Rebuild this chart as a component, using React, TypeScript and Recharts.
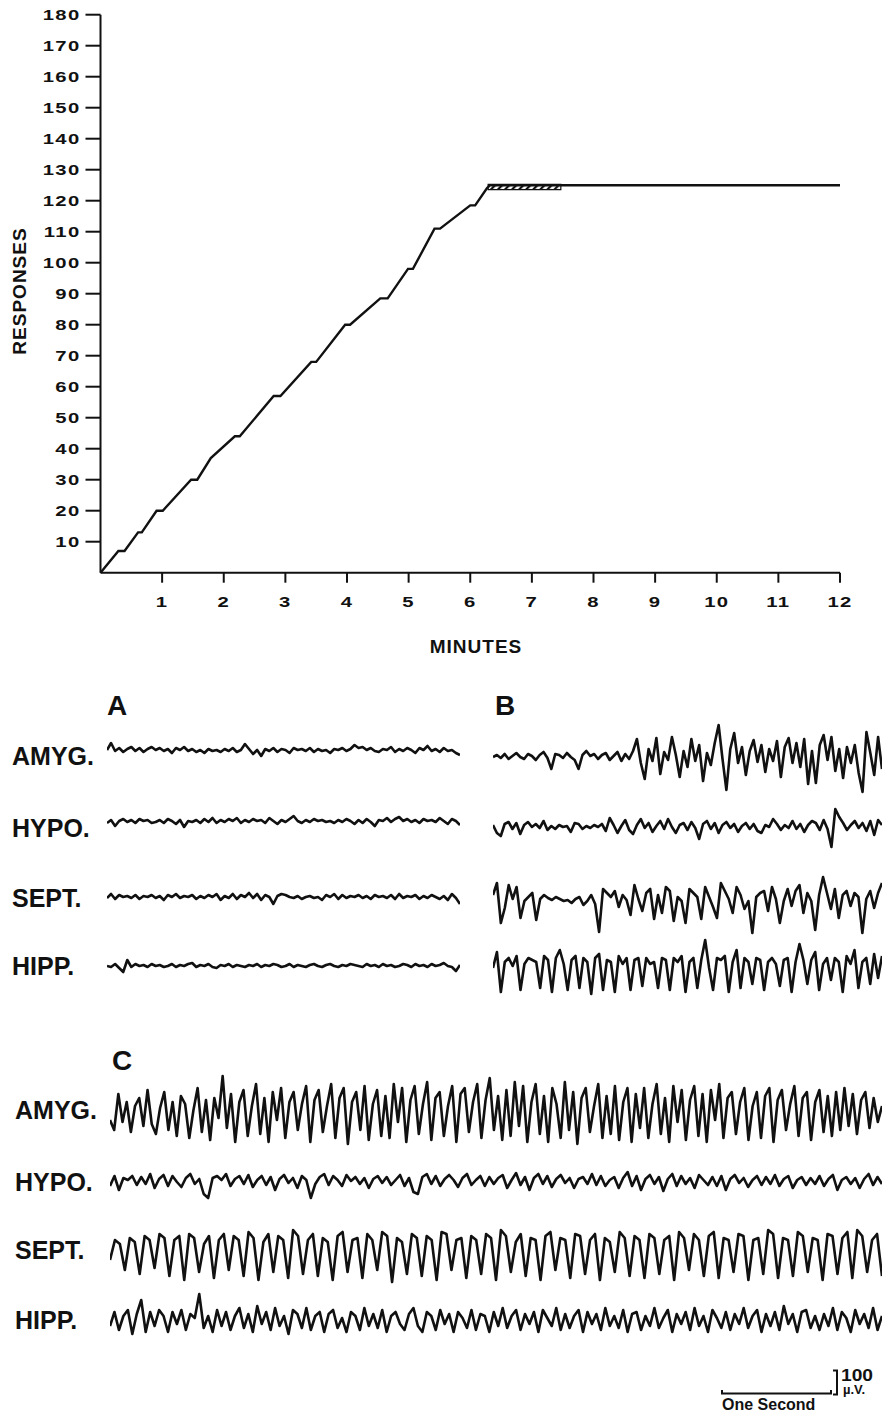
import { Line, LineChart, ReferenceArea, XAxis, YAxis } from "recharts";

// cumulative record (top panel)
const minutes = [0, 0.29, 0.39, 0.61, 0.67, 0.91, 1.01, 1.47, 1.57, 1.79, 2.18, 2.26, 2.81, 2.92, 3.42, 3.5, 3.97, 4.05, 4.54, 4.66, 4.99, 5.07, 5.42, 5.51, 6.0, 6.08, 6.27, 6.32, 12];
const responses = [0, 7, 7, 13, 13, 20, 20, 30, 30, 37, 44, 44, 57, 57, 68, 68, 80, 80, 88.5, 88.5, 98, 98, 111, 111, 118.5, 118.5, 124, 125, 125];
const responseTicks = [10, 20, 30, 40, 50, 60, 70, 80, 90, 100, 110, 120, 130, 140, 150, 160, 170, 180];
const minuteTicks = [1, 2, 3, 4, 5, 6, 7, 8, 9, 10, 11, 12];
const hatchMinutes = [6.29, 7.47];
const hatchResponses = [123.6, 125.3];

// EEG traces, deflection (up = positive)
const aAmyg = [1, 8, 0, 3, -1, 2, 4, 0, 3, -1, 2, 4, 1, 3, 0, 2, -2, 3, 1, 4, 0, 2, -1, 1, -2, 2, 0, 1, -1, 2, 0, 3, -1, 1, 7, 2, -3, 1, -5, 2, 0, 3, -1, 2, 1, -2, 3, 1, 2, 0, 3, -1, 2, 0, 1, -2, 2, 1, 3, 0, 2, 6, 3, 4, 1, 3, 0, -1, 2, 1, 4, -1, 2, 0, 3, 1, -2, 3, 1, 5, 0, 2, -1, 3, 0, 1, -2, -4];
const aHypo = [-1, 2, -4, 1, 3, 0, 2, -1, 3, 1, 2, -1, 0, 2, -1, 3, 1, -2, 2, -5, 1, 0, 2, -1, 3, 0, 4, -1, 2, 0, 3, 1, 4, -1, 2, 0, 3, 1, 2, -1, 4, 1, -2, 2, 0, 3, 6, 1, -1, 2, 0, 3, 1, 2, 0, 1, -1, 2, 0, 3, 1, -2, 2, -1, 3, 0, -4, 2, 1, 4, 0, 3, 5, 1, 3, 0, 2, -1, 3, 1, 2, 0, 4, 1, -2, 3, 1, -3];
const aSept = [0, 4, -1, 3, 1, 2, 0, 3, -1, 2, 1, 3, 0, 2, -2, 3, 1, 4, 0, 2, 1, 3, -1, 2, 0, 3, 1, 4, -2, 2, 0, 4, -1, 3, 1, 5, 0, 4, -2, 3, 1, -6, 2, 4, 3, 1, 0, 2, -1, 1, 2, 0, 1, -2, 3, 1, 4, -1, 3, 0, 2, 1, 3, 0, 2, -1, 3, 1, 2, 0, 3, -1, 4, 0, 2, 1, 3, -1, 2, 0, 3, 1, -1, 2, -2, 4, 0, -6];
const aHipp = [0, -1, 2, -2, -6, 6, -1, 2, 0, 1, -1, 2, 0, 1, -1, 0, 2, -1, 1, 0, 2, 3, -1, 1, 0, 2, -1, -2, 1, 0, 2, -1, 1, 0, -1, 1, 0, 2, -1, 1, 0, 2, 1, -1, 0, 2, -1, 1, 0, -1, 1, 2, 0, -1, 1, 2, 0, -1, 1, 0, 2, 1, 0, -1, 2, 0, 1, -1, 2, 0, 1, -1, 0, 2, 1, -1, 2, 0, 1, -1, 2, 0, 1, 3, 0, -1, -5, 1];

const bAmyg = [0, 2, -1, 3, -2, 1, 4, 0, -2, 3, 1, -3, 2, 5, -1, -12, 3, 2, -1, 4, 0, -3, -12, 2, 6, 1, 3, -2, 2, 4, -3, 1, 5, -4, 3, -2, 6, 18, -6, -22, 8, -4, 19, -17, 5, -3, 20, 2, -20, 6, -10, 18, -4, 12, -24, 4, -8, 14, 32, -2, -33, 8, 24, -6, 10, -18, 6, 17, -5, 12, -15, 8, -4, 16, -20, 10, 19, -6, 14, -10, 18, -27, 6, -26, 12, 22, -3, 20, -14, 8, -21, 10, -6, 12, -16, -35, 25, 4, -18, 20, -12];
const bHypo = [2, -6, -9, 3, 5, -2, 4, -7, 2, 5, 0, 3, -1, 6, -3, 1, -2, 2, 0, 1, -5, 4, 3, -2, 1, -1, 2, 0, 3, -4, 9, 2, -6, 1, 7, -3, -7, 2, 8, -1, 4, -5, 1, 6, -2, 8, 0, -6, 2, 4, -3, 5, -1, -12, 3, 6, -2, 4, -6, 2, 5, -1, 3, -5, 1, 4, -2, 3, -4, -6, 2, 0, 8, 3, -3, 2, -1, 6, -2, 3, -5, 2, 6, 4, -3, 7, -2, -20, 18, 10, 4, -3, 2, 6, -1, 4, -4, 6, -8, 7, 2];
const bSept = [8, 20, -20, -5, 18, 4, 16, -15, 2, 6, 10, -17, 4, 8, 5, 3, 6, 4, 2, 3, 0, 4, 6, -2, 2, 8, -1, -29, 14, 10, 6, 12, -4, 8, 3, -12, 18, 4, -8, 10, 14, -16, 8, -10, 16, 12, -18, 6, 2, -20, 14, 10, 6, -16, 16, 6, -4, -15, 20, 12, 4, -10, 16, 8, -6, 2, -30, 6, 10, 12, -8, 16, 4, -20, 2, 14, -3, 12, 18, -10, 10, 2, -27, 8, 26, 10, -6, 14, -15, 8, 12, -3, 10, 6, -30, 4, 12, -5, 10, 20];
const bHipp = [2, 18, -22, 8, 12, 4, 14, -20, 6, 12, 10, 8, -18, 14, 10, -22, 12, 20, 6, -20, 10, 14, -18, 12, 8, -24, 12, 16, -20, 10, 8, -22, 14, 6, 12, -20, 10, 12, -16, 12, 6, 8, -18, 12, 10, -20, 12, 8, 14, -22, 8, 12, -18, 10, 30, 2, -20, 12, 10, 14, -22, 8, 20, -18, 12, 8, -14, 12, 10, -20, 8, 12, 6, -16, 10, 12, -22, 8, 26, 10, -14, 10, 18, -20, 6, 12, -10, 12, 8, -22, 14, 6, 20, -18, 8, 12, -14, 16, -8, 14];

const cAmyg = [-8, -18, 18, -10, 10, -20, 6, 14, -14, 22, -12, -22, 4, 20, -18, 10, -24, 16, 8, -26, 2, 24, -20, 12, -28, 14, -6, 36, -16, 18, -30, 10, 22, -24, 6, 28, -22, 14, -30, 20, -8, 24, -26, 10, 20, -18, 8, 26, -30, 12, 22, -20, 6, 28, -26, 14, 24, -32, 10, 20, -18, 26, -28, 8, 22, -24, 16, -26, 28, -10, 24, -30, 12, 26, -22, 8, 30, -28, 14, 20, -24, 6, 26, -30, 18, 24, -20, 10, 28, -26, 12, 34, -18, 16, -28, 22, -24, 30, -14, 26, -30, 10, 28, -22, 16, -30, 24, 8, -26, 30, -18, 20, -32, 14, 24, -20, 6, 28, -26, 16, -22, 26, -28, 10, 24, -30, 18, -16, 24, -26, 8, 28, -22, 14, -30, 26, -10, 22, -28, 12, 26, -24, 18, -30, 22, -8, 28, -26, 14, 20, -22, 10, 24, -28, 6, 20, -26, 16, 24, -30, 12, 22, -18, 8, 26, -24, 14, 20, -28, 10, 22, -20, 16, -24, 20, -18, 24, -14, 18, -22, 12, 20, -16, 14, -10, 6];
const cHypo = [-4, 6, -8, 4, 2, 6, -3, 5, -2, 8, -6, 3, 7, -4, 6, 0, -5, 4, 8, -2, 3, -12, -16, 4, 6, 2, 8, -4, 3, 6, -2, 7, -5, 2, 6, -3, 5, -8, 3, 7, -1, 4, -6, 6, 2, -16, -2, 5, 8, -3, 6, 2, -4, 7, 1, 5, -2, 4, -6, 3, 6, -1, 5, -3, 2, 7, -4, 4, -10, -12, 5, 8, -2, 6, -4, 3, 7, 2, -5, 4, 8, -3, 2, 6, -4, 5, -2, 4, 7, -6, 2, 9, -3, 5, -8, 4, 8, -2, 6, -5, 3, 7, -1, 4, -6, 3, 5, -2, 8, -3, 6, -4, 2, 5, -6, 4, 10, -4, 6, -8, 3, 7, -2, 5, -9, 3, 8, -4, 6, -2, 4, -6, 7, 2, -3, 5, -4, 6, -8, 3, 7, -1, 4, -5, 2, 6, -3, 5, -2, 7, -4, 3, 6, -6, 2, 5, -3, 4, -2, 6, -4, 3, 7, -8, 2, 5, -2, 4, -6, 3, 8, -3, 5, -2];
const cSept = [-10, 10, 6, -20, 12, 8, -24, 14, 10, -18, 16, 12, -26, 10, 14, -30, 16, 12, -22, 6, 14, -28, 10, 16, -20, 14, 10, -26, 18, 12, -30, 8, 16, -22, 14, 10, -28, 20, 14, -24, 10, 16, -26, 12, 8, -30, 14, 18, -22, 10, 12, -28, 16, 10, -20, 18, 14, -32, 12, 8, -24, 16, 12, -26, 14, 10, -30, 18, 16, -20, 10, 12, -28, 14, 10, -24, 16, 12, -30, 20, 14, -22, 8, 16, -26, 12, 10, -30, 14, 18, -20, 12, 10, -28, 16, 14, -24, 10, 16, -30, 12, 8, -22, 18, 12, -26, 14, 10, -28, 16, 12, -24, 10, 14, -30, 18, 12, -20, 16, 10, -26, 14, 18, -28, 12, 10, -22, 16, 14, -30, 10, 12, -24, 20, 16, -28, 12, 10, -26, 18, 14, -22, 12, 10, -30, 16, 14, -24, 12, 18, -28, 20, 14, -22, 10, 16, -26];
const cHipp = [-6, 8, -10, 4, 10, -14, 6, 20, -12, 8, -6, 10, 4, -12, 8, -4, 10, -10, 6, 2, 26, -8, 4, -12, 10, -6, 8, -10, 4, 12, -8, 6, -12, 14, -4, 8, -10, 12, -6, 4, -14, 10, 6, -8, 12, -10, 4, 8, -12, 6, 10, -8, 2, -12, 8, 4, -10, 12, -6, 6, -8, 10, -12, 4, 8, -4, -10, 6, 12, -6, -12, 8, 4, -10, 10, -4, 6, -12, 8, 2, -8, 10, -10, 6, 4, -12, 8, -6, 12, -8, 4, 10, -10, 6, -4, 8, -12, 10, 2, -6, 12, -10, 6, -8, 4, 10, -12, 8, -4, 6, -10, 12, -6, 4, -8, 10, -12, 6, 8, -10, 4, -6, 12, -8, 2, 10, -12, 6, -4, 8, -10, 12, -6, 4, -12, 10, 2, -8, 8, -10, 6, -4, 12, -8, 4, 10, -12, 6, -6, 8, -10, 14, -4, 6, -12, 8, 10, -8, 4, -10, 6, -6, 12, -10, 8, 2, -12, 10, -4, 6, -8, 12, -10, 4];

const rowNames = ["AMYG.", "HYPO.", "SEPT.", "HIPP."];

const INK = "#111";
const FONT = '"Liberation Sans", Arial, sans-serif';

function YTick({ x, y, payload }: any) {
  return (
    <g transform={`translate(${x} ${y}) scale(1.35 1)`}>
      <text x={0} y={5.5} textAnchor="end" fontSize={15} fontWeight="bold" fontFamily={FONT} fill={INK} letterSpacing={1}>
        {payload.value}
      </text>
    </g>
  );
}

function XTick({ x, y, payload }: any) {
  return (
    <g transform={`translate(${x} ${y}) scale(1.35 1)`}>
      <text x={0} y={10} textAnchor="middle" fontSize={15} fontWeight="bold" fontFamily={FONT} fill={INK} letterSpacing={1}>
        {payload.value}
      </text>
    </g>
  );
}

function Trace({ values, left, center, width, range }: { values: number[]; left: number; center: number; width: number; range: number }) {
  const data = values.map((v, i) => ({ i, v }));
  return (
    <div style={{ position: "absolute", left, top: center - range }}>
      <LineChart width={width} height={range * 2} data={data} margin={{ top: 0, right: 0, left: 0, bottom: 0 }}>
        <XAxis dataKey="i" type="number" domain={[0, values.length - 1]} hide />
        <YAxis type="number" domain={[-range, range]} hide />
        <Line type="linear" dataKey="v" stroke={INK} strokeWidth={2.6} strokeLinejoin="round" dot={false} isAnimationActive={false} />
      </LineChart>
    </div>
  );
}

export default function App() {
  const curve = minutes.map((m, i) => ({ m, r: responses[i] }));
  const axisStyle = { stroke: INK, strokeWidth: 2 };

  return (
    <div style={{ position: "absolute", left: 0, top: 0, width: 884, height: 1416, background: "#fff", overflow: "hidden" }}>
      <div style={{ position: "absolute", left: 0, top: 0 }}>
        <LineChart width={884} height={640} data={curve} margin={{ top: 14.7, right: 44, left: 40.5, bottom: 27.3 }}>
          <defs>
            <pattern id="hatch" width="5" height="5" patternUnits="userSpaceOnUse" patternTransform="rotate(45)">
              <rect width="2.2" height="5" fill={INK} />
            </pattern>
          </defs>
          <XAxis
            dataKey="m"
            type="number"
            domain={[0, 12]}
            ticks={minuteTicks}
            interval={0}
            height={40}
            tickSize={10}
            tickMargin={14}
            axisLine={axisStyle}
            tickLine={axisStyle}
            tick={XTick}
          />
          <YAxis
            type="number"
            domain={[0, 180]}
            ticks={responseTicks}
            interval={0}
            width={60}
            tickSize={15}
            tickMargin={5}
            axisLine={axisStyle}
            tickLine={axisStyle}
            tick={YTick}
          />
          <ReferenceArea
            x1={hatchMinutes[0]}
            x2={hatchMinutes[1]}
            y1={hatchResponses[0]}
            y2={hatchResponses[1]}
            fill="url(#hatch)"
            fillOpacity={1}
            stroke={INK}
            strokeWidth={1.2}
          />
          <Line type="linear" dataKey="r" stroke={INK} strokeWidth={2.4} dot={false} isAnimationActive={false} />
        </LineChart>
      </div>

      <Trace values={aAmyg} left={107} center={751} width={353} range={30} />
      <Trace values={aHypo} left={107} center={822} width={353} range={30} />
      <Trace values={aSept} left={107} center={898} width={353} range={30} />
      <Trace values={aHipp} left={107} center={966} width={353} range={30} />

      <Trace values={bAmyg} left={493} center={757} width={389} range={40} />
      <Trace values={bHypo} left={493} center={827} width={389} range={40} />
      <Trace values={bSept} left={493} center={903} width={389} range={40} />
      <Trace values={bHipp} left={493} center={970} width={389} range={40} />

      <Trace values={cAmyg} left={110} center={1112} width={772} range={40} />
      <Trace values={cHypo} left={110} center={1182} width={772} range={40} />
      <Trace values={cSept} left={110} center={1250} width={772} range={40} />
      <Trace values={cHipp} left={110} center={1320} width={772} range={40} />

      <svg width={884} height={1416} style={{ position: "absolute", left: 0, top: 0, pointerEvents: "none" }} fontFamily={FONT} fill={INK} fontWeight="bold">
        <text transform="translate(26 291) rotate(-90)" textAnchor="middle" fontSize={19} letterSpacing={1}>RESPONSES</text>
        <text x={476} y={653} textAnchor="middle" fontSize={19} letterSpacing={1}>MINUTES</text>

        <text x={107} y={715} fontSize={28}>A</text>
        <text x={495} y={715} fontSize={28}>B</text>
        <text x={112} y={1070} fontSize={28}>C</text>

        {[765, 837, 907, 975].map((b, i) => (
          <text key={"ab" + i} x={12} y={b} fontSize={25}>{rowNames[i]}</text>
        ))}
        {[1119, 1191, 1259, 1329].map((b, i) => (
          <text key={"c" + i} x={15} y={b} fontSize={25}>{rowNames[i]}</text>
        ))}

        <path d="M722 1390 L722 1393.5 L831 1393.5 L831 1390" fill="none" stroke={INK} strokeWidth={2} />
        <path d="M833 1370.5 L837 1370.5 L837 1394.5 L833 1394.5" fill="none" stroke={INK} strokeWidth={2} />
        <text transform="translate(841 1381) scale(1.2 1)" fontSize={16}>100</text>
        <text x={843} y={1394} fontSize={13}>µ.V.</text>
        <text x={722} y={1410} fontSize={16}>One Second</text>
      </svg>
    </div>
  );
}
